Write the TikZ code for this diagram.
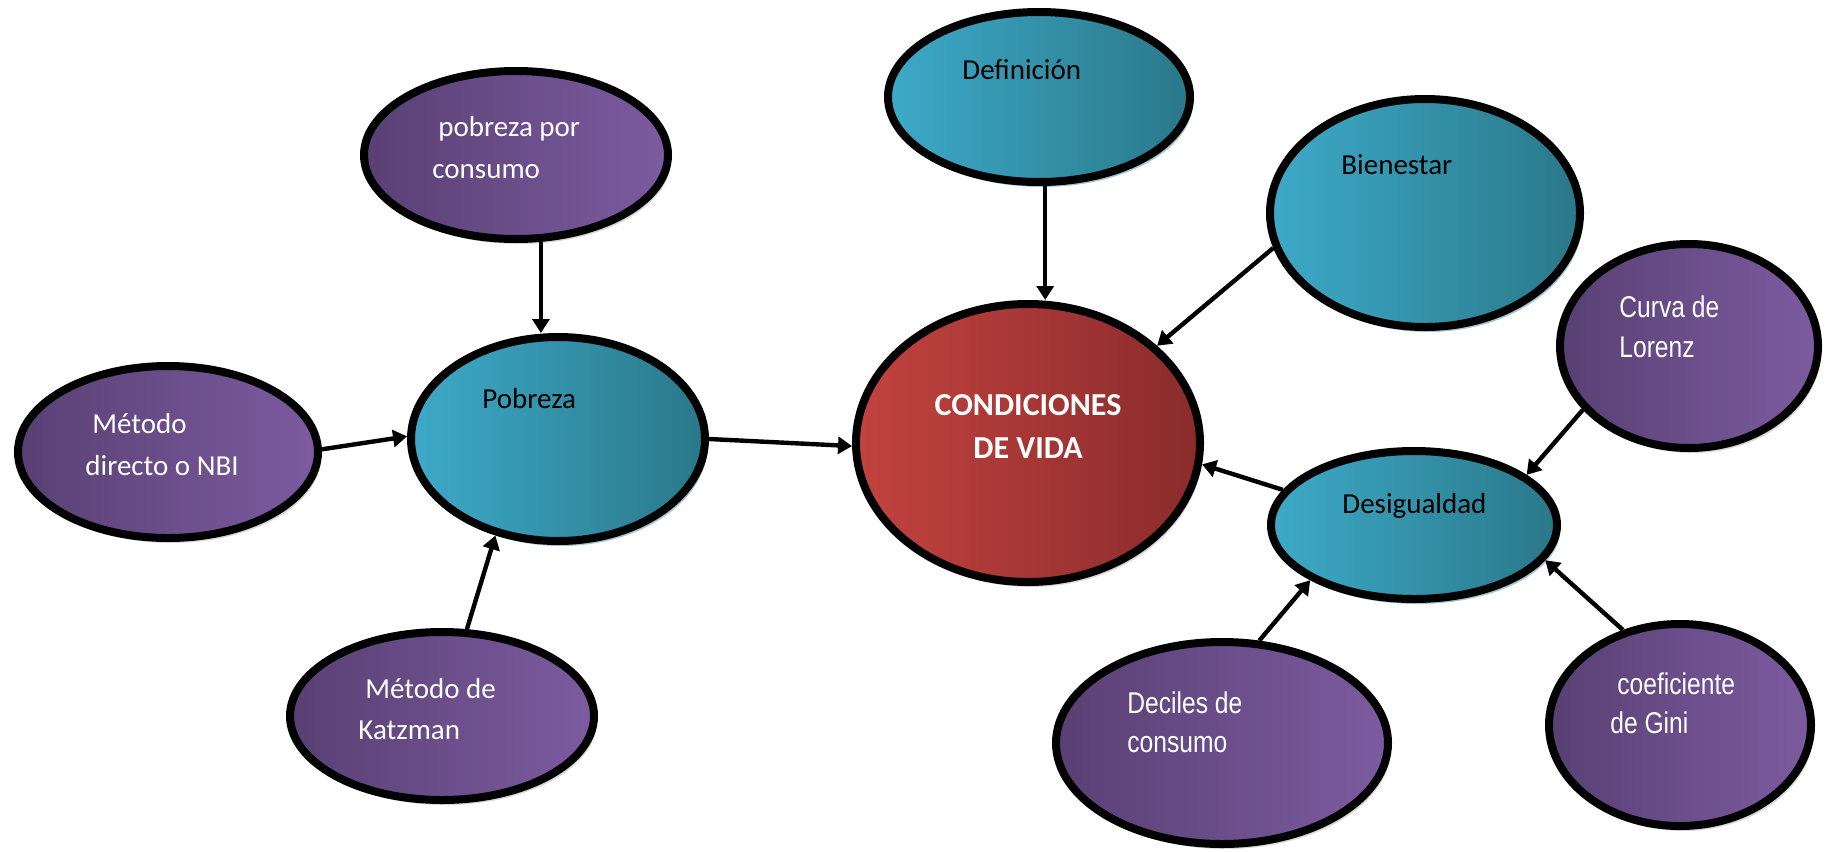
\documentclass[tikz,border=0pt]{standalone}
\usepackage{fontspec}
\setmainfont{Carlito}
\newfontfamily\narrowfont[FakeStretch=0.82]{Liberation Sans}
\usetikzlibrary{shapes.geometric,arrows.meta,shadows}
\definecolor{tealL}{HTML}{3DAAC8}
\definecolor{tealD}{HTML}{2A7889}
\definecolor{tealS}{HTML}{8DB8C4}
\definecolor{purL}{HTML}{7C5BA0}
\definecolor{purD}{HTML}{584073}
\definecolor{redL}{HTML}{C2433F}
\definecolor{redD}{HTML}{8A2B2C}
\tikzset{
  bub/.style={ellipse, draw=black, line width=4pt, inner sep=0pt},
  tealbub/.style={bub, left color=tealL, right color=tealD,
    drop shadow={shadow xshift=1.5pt, shadow yshift=-2.5pt, fill=tealS, opacity=0.8}},
  purbub/.style={bub, left color=purD, right color=purL,
    drop shadow={shadow xshift=1.5pt, shadow yshift=-2.5pt, fill=black!45, opacity=0.35}},
  redbub/.style={bub, left color=redL, right color=redD,
    drop shadow={shadow xshift=1.5pt, shadow yshift=-2.5pt, fill=black!45, opacity=0.35}},
  lbl/.style={anchor=base west, inner sep=0pt, font=\fontsize{14.5}{21}\selectfont},
  dark/.style={lbl, text=black},
  light/.style={lbl, text=white},
  narrow/.style={anchor=base west, inner sep=0pt, text=white, font=\narrowfont\fontsize{15}{20}\selectfont},
  big/.style={anchor=base, inner sep=0pt, text=white, font=\bfseries\fontsize{16}{21}\selectfont},
  arr/.style={line width=2.2pt, -{Triangle[length=7pt,width=8.5pt]}}
}
\begin{document}
\begin{tikzpicture}[x=0.5pt,y=-0.5pt]
\useasboundingbox (0,0) rectangle (1829,851);
% bubbles
\node[purbub, minimum width=152pt, minimum height=84pt] (cons) at (516,155) {};
\node[purbub, minimum width=150pt, minimum height=86pt] (nbi) at (168,452) {};
\node[tealbub, minimum width=147pt, minimum height=102pt] (pob) at (558,439) {};
\node[purbub, minimum width=152pt, minimum height=84pt] (katz) at (442,716) {};
\node[redbub, minimum width=172pt, minimum height=139pt] (cond) at (1028,443) {};
\node[tealbub, minimum width=151pt, minimum height=85pt] (def) at (1039,97) {};
\node[tealbub, minimum width=155pt, minimum height=114pt] (bien) at (1425,213) {};
\node[purbub, minimum width=129pt, minimum height=102pt] (curva) at (1689,346) {};
\node[tealbub, minimum width=143pt, minimum height=74pt] (desig) at (1414,525) {};
\node[purbub, minimum width=166pt, minimum height=101pt] (dec) at (1222,743) {};
\node[purbub, minimum width=131pt, minimum height=101pt] (gini) at (1680,725) {};
% labels
\node[light] (consA) at (438,136) {pobreza por};
\node[light] (consB) at (432,178) {consumo};
\node[light] (nbiA) at (92,433) {Método};
\node[light] (nbiB) at (85,475) {directo o NBI};
\node[dark] (pobA) at (482,408) {Pobreza};
\node[light] (katzA) at (365,698) {Método de};
\node[light] (katzB) at (358,739) {Katzman};
\node[big] (condA) at (1028,415) {CONDICIONES};
\node[big] (condB) at (1028,458) {DE VIDA};
\node[dark] (defA) at (962,79) {Definición};
\node[dark] (bienA) at (1341,174) {Bienestar};
\node[narrow] (curvaA) at (1619,317) {Curva de};
\node[narrow] (curvaB) at (1619,357) {Lorenz};
\node[dark] (desigA) at (1342,513) {Desigualdad};
\node[narrow] (decA) at (1127,713) {Deciles de};
\node[narrow] (decB) at (1127,752) {consumo};
\node[narrow] (giniA) at (1617,694) {coeficiente};
\node[narrow] (giniB) at (1610,733) {de Gini};
% connectors
\draw[arr] (cons.-74) -- (cons.-74 |- pob.north);
\draw[arr] (nbi.1) -- (pob.179);
\draw[arr] (katz.74) -- (pob.237);
\draw[arr] (pob.east) -- (cond.181);
\draw[arr] (def.-86) -- (def.-86 |- cond.north);
\draw[arr] (bien.193) -- (cond.37);
\draw[arr] (desig.165) -- (cond.-7);
\draw[arr] (curva.211) -- (desig.24);
\draw[arr] (dec.70) -- (desig.208);
\draw[arr] (gini.121) -- (desig.-15);
\end{tikzpicture}
\end{document}
